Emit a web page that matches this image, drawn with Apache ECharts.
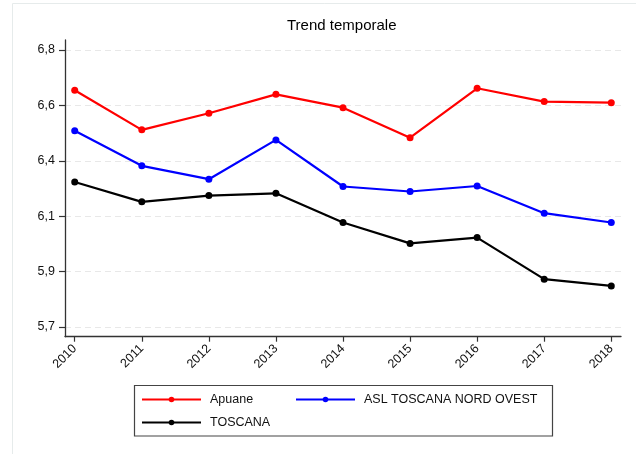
<!DOCTYPE html>
<html>
<head>
<meta charset="utf-8">
<script src="https://cdn.jsdelivr.net/npm/echarts@6/dist/echarts.min.js"></script>
<style>
html,body{margin:0;padding:0;background:#fff;}
#chart{width:636px;height:454px;}
</style>
</head>
<body>
<div id="chart"></div>
<script>
const years = ['2010','2011','2012','2013','2014','2015','2016','2017','2018'];
const apuane = [6.640, 6.483, 6.549, 6.624, 6.571, 6.452, 6.648, 6.595, 6.591];
const aslNordOvest = [6.479, 6.340, 6.287, 6.443, 6.258, 6.238, 6.260, 6.152, 6.115];
const toscana = [6.276, 6.197, 6.222, 6.231, 6.115, 6.032, 6.055, 5.890, 5.863];
const yTickValues = [5.7, 5.92, 6.14, 6.36, 6.58, 6.8];
const yTickLabels = ['5,7', '5,9', '6,1', '6,4', '6,6', '6,8'];
const seriesNames = ['Apuane', 'ASL TOSCANA NORD OVEST', 'TOSCANA'];
const titleText = 'Trend temporale';

const FONT = 'Liberation Sans, Arial, Helvetica, sans-serif';
const xValues = years.map(Number);
const pairs = arr => arr.map((v, i) => [xValues[i], v]);

function mkSeries(name, data, color) {
  return {
    name: name,
    type: 'line',
    data: pairs(data),
    symbol: 'circle',
    symbolSize: 7,
    showSymbol: true,
    lineStyle: {color: color, width: 2.2},
    itemStyle: {color: color},
    emphasis: {disabled: true},
    animation: false
  };
}

const legendCommon = {
  orient: 'vertical',
  padding: 0,
  itemGap: 10,
  itemWidth: 59,
  itemHeight: 7,
  selectedMode: false,
  textStyle: {fontFamily: FONT, fontSize: 12.5, color: '#111', padding: [0, 0, 0, 4]}
};

const chart = echarts.init(document.getElementById('chart'), null, {renderer: 'canvas'});
chart.setOption({
  animation: false,
  backgroundColor: '#fff',
  textStyle: {fontFamily: FONT},
  title: {
    text: titleText,
    left: 287,
    top: 18,
    padding: 0,
    textStyle: {fontFamily: FONT, fontSize: 15, fontWeight: 'normal', color: '#000'}
  },
  graphic: [{
    type: 'rect',
    shape: {x: 12.5, y: 3.5, width: 700, height: 600},
    style: {fill: null, stroke: '#e6ebeb', lineWidth: 1},
    silent: true,
    z: -10
  }, {
    type: 'rect',
    shape: {x: 134.5, y: 385.5, width: 418, height: 50.5},
    style: {fill: null, stroke: '#444', lineWidth: 1.2},
    silent: true,
    z: -5
  }],
  grid: {left: 65, right: 15, top: 40, bottom: 117.3, containLabel: false},
  xAxis: {
    type: 'value',
    min: 2009.855,
    max: 2018.145,
    axisLine: {show: true, onZero: false, lineStyle: {color: '#333', width: 1.3}},
    axisTick: {show: true, length: 5, customValues: xValues, lineStyle: {color: '#333', width: 1.2}},
    axisLabel: {
      customValues: xValues,
      rotate: 45,
      margin: 10,
      fontSize: 12.5,
      fontFamily: FONT,
      color: '#111',
      formatter: v => years[xValues.indexOf(Math.round(v))] || ''
    },
    splitLine: {show: false}
  },
  yAxis: {
    type: 'value',
    min: 5.6615,
    max: 6.8397,
    axisLine: {show: true, onZero: false, lineStyle: {color: '#333', width: 1.3}},
    axisTick: {show: true, length: 6, customValues: yTickValues, lineStyle: {color: '#333', width: 1.2}},
    axisLabel: {
      customValues: yTickValues,
      margin: 10,
      fontSize: 12.5,
      fontFamily: FONT,
      color: '#111',
      formatter: v => {
        let best = 0;
        for (let i = 1; i < yTickValues.length; i++) {
          if (Math.abs(yTickValues[i] - v) < Math.abs(yTickValues[best] - v)) best = i;
        }
        return yTickLabels[best];
      }
    },
    splitLine: {show: true, lineStyle: {color: '#e8e8e8', width: 1, type: [6, 4]}}
  },
  legend: [
    Object.assign({}, legendCommon, {left: 141, top: 393, data: [seriesNames[0], seriesNames[2]]}),
    Object.assign({}, legendCommon, {left: 295, top: 393, data: [seriesNames[1]]})
  ],
  series: [
    mkSeries(seriesNames[0], apuane, '#ff0000'),
    mkSeries(seriesNames[1], aslNordOvest, '#0000ff'),
    mkSeries(seriesNames[2], toscana, '#000000')
  ]
});
</script>
</body>
</html>
